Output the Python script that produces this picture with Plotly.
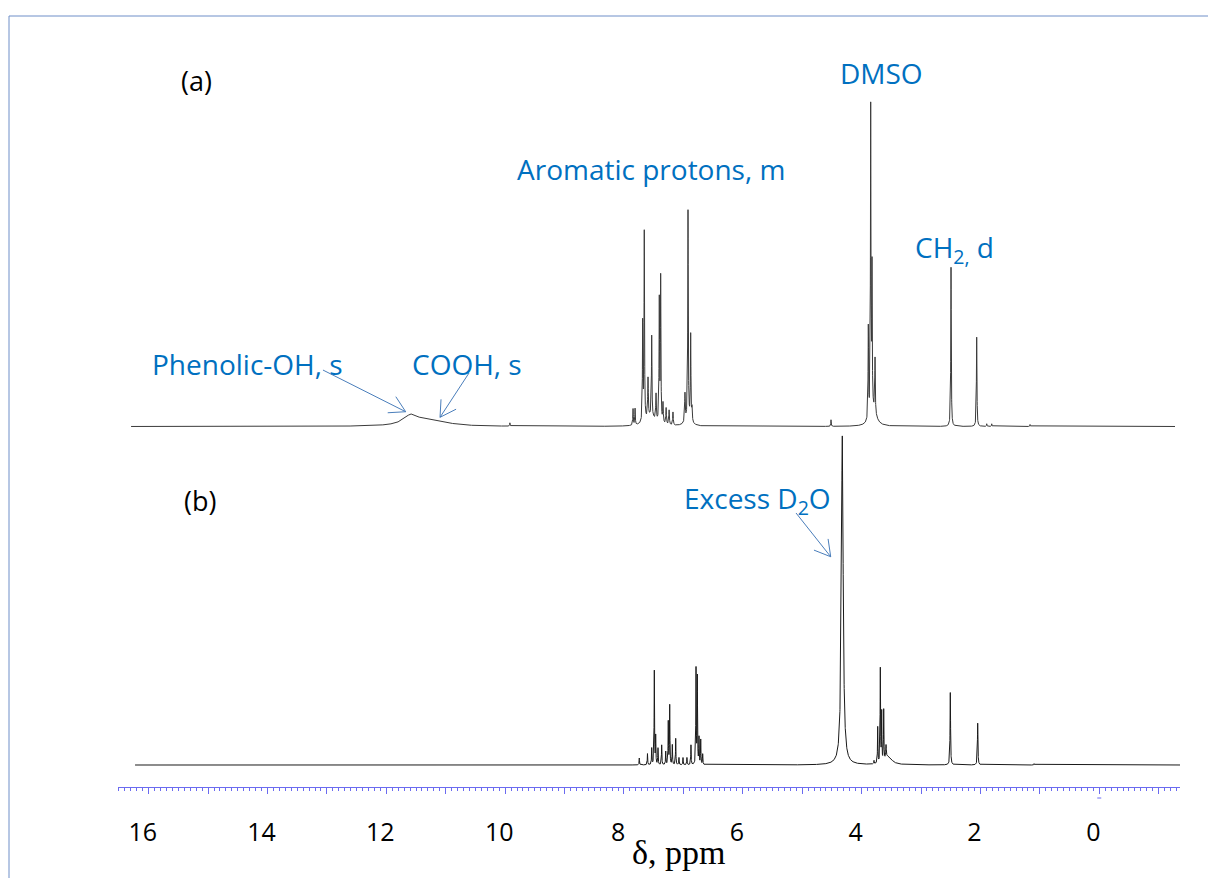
import numpy as np
import plotly.graph_objects as go

# ---------------- data: peak lists (ppm, relative height, half-width in ppm) ----------------
# Spectrum (a): compound in DMSO-d6
a_pos = [11.48, 11.10, 9.82,
         7.747, 7.713, 7.585, 7.558, 7.495, 7.433, 7.36, 7.305, 7.282, 7.243, 7.19, 7.14, 7.075,
         7.45, 6.873, 6.822, 6.777, 6.755, 6.82,
         4.415,
         3.787, 3.747, 3.725, 3.674, 3.70,
         2.395, 1.963, 1.794, 1.71, 1.065]
a_height = [0.032, 0.016, 0.010,
            0.050, 0.050, 0.300, 0.575, 0.120, 0.245, 0.080, 0.370, 0.440, 0.060, 0.050, 0.045, 0.040,
            0.030, 0.085, 0.630, 0.260, 0.040, 0.025,
            0.020,
            0.280, 0.935, 0.430, 0.165, 0.045,
            0.485, 0.272, 0.008, 0.008, 0.006]
a_width = [0.16, 0.30, 0.004,
           0.005, 0.005, 0.005, 0.005, 0.006, 0.005, 0.006, 0.005, 0.005, 0.006, 0.006, 0.006, 0.006,
           0.09, 0.006, 0.005, 0.005, 0.006, 0.05,
           0.004,
           0.005, 0.005, 0.005, 0.005, 0.06,
           0.005, 0.005, 0.004, 0.004, 0.004]
a_window = [16.197, -1.375]

# Spectrum (b): after D2O exchange
b_pos = [7.642, 7.504, 7.433, 7.389, 7.366, 7.327, 7.265, 7.197, 7.154, 7.13, 7.086, 7.029,
         6.974, 6.906, 6.84, 6.772, 6.687, 6.665, 6.637, 6.608, 6.575,
         4.225,
         3.691, 3.629, 3.585, 3.562, 3.528, 3.489, 3.45,
         2.407, 1.946, 0.998]
b_height = [0.021, 0.034, 0.050, 0.285, 0.085, 0.050, 0.060, 0.040, 0.130, 0.180, 0.060, 0.080,
            0.022, 0.022, 0.022, 0.060, 0.290, 0.265, 0.080, 0.075, 0.032,
            1.000,
            0.010, 0.110, 0.285, 0.150, 0.155, 0.040, 0.025,
            0.220, 0.127, 0.004]
b_width = [0.004, 0.004, 0.004, 0.004, 0.004, 0.004, 0.004, 0.004, 0.004, 0.004, 0.004, 0.004,
           0.004, 0.004, 0.004, 0.004, 0.004, 0.004, 0.004, 0.004, 0.004,
           0.0176,
           0.004, 0.004, 0.004, 0.004, 0.004, 0.006, 0.07,
           0.005, 0.005, 0.004]
b_window = [16.13, -1.46]

tick_values = [16, 14, 12, 10, 8, 6, 4, 2, 0]
tick_labels = [str(v) for v in tick_values]

labels_blue = ["DMSO", "Aromatic protons, m", "CH<sub>2,</sub> d", "Phenolic-OH, s", "COOH, s",
               "Excess D<sub>2</sub>O"]

# ---------------- build spectra from the peak lists ----------------
def spectrum(window, pos, height, width):
    x = np.arange(window[1], window[0], 0.001)
    y = np.zeros_like(x)
    for c, h, w in zip(pos, height, width):
        y += h / (1.0 + ((x - c) / w) ** 2)
    return x, y

xa, ya = spectrum(a_window, a_pos, a_height, a_width)
xb, yb = spectrum(b_window, b_pos, b_height, b_width)

# ---------------- layout geometry (pixels) ----------------
W, H = 1208, 878
X_LEFT, X_RIGHT = 118, 1180
PPM_LEFT, PPM_RIGHT = 16.416, -1.459
AXIS_Y = 787.3
A_BASE, A_UNIT = 426.5, 328.2
B_BASE, B_UNIT = 765.0, 329.0

dom_bottom = (H - AXIS_Y) / H
yb_lo = -(AXIS_Y - B_BASE) / B_UNIT
yb_hi = yb_lo + AXIS_Y / B_UNIT
ya_lo = -(AXIS_Y - A_BASE) / A_UNIT
ya_hi = ya_lo + AXIS_Y / A_UNIT

def px(ppm):
    return X_LEFT + (PPM_LEFT - ppm) / (PPM_LEFT - PPM_RIGHT) * (X_RIGHT - X_LEFT)

def fx(p):
    return p / W

def fy(p):
    return 1 - p / H

fig = go.Figure()
fig.add_trace(go.Scatter(x=xa, y=ya, mode="lines", yaxis="y2",
                         line=dict(color="#3a3a3a", width=1), hoverinfo="skip"))
fig.add_trace(go.Scatter(x=xb, y=yb, mode="lines", yaxis="y",
                         line=dict(color="#1a1a1a", width=1), hoverinfo="skip"))
# invisible trace to activate the label axis
fig.add_trace(go.Scatter(x=[tick_values[0]], y=[0], xaxis="x2", mode="markers",
                         marker=dict(opacity=0), hoverinfo="skip"))

AX_BLUE = "#6b6bf0"
fig.update_layout(
    width=W, height=H, margin=dict(l=0, r=0, t=0, b=0),
    paper_bgcolor="white", plot_bgcolor="white", showlegend=False,
    xaxis=dict(domain=[fx(X_LEFT), fx(X_RIGHT)], range=[PPM_LEFT, PPM_RIGHT],
               showgrid=False, zeroline=False, showline=True, linecolor=AX_BLUE, linewidth=1,
               ticks="outside", tick0=-0.1, dtick=1, ticklen=6, tickcolor=AX_BLUE, tickwidth=1,
               showticklabels=False,
               minor=dict(ticks="outside", tick0=-0.1, dtick=0.1, ticklen=2.5, tickcolor=AX_BLUE,
                          tickwidth=1, showgrid=False),
               anchor="y"),
    xaxis2=dict(overlaying="x", range=[PPM_LEFT, PPM_RIGHT], anchor="y", side="bottom",
                showgrid=False, zeroline=False, showline=False, ticks="",
                tickmode="array", tickvals=tick_values, ticktext=tick_labels,
                tickfont=dict(family="Open Sans", size=25, color="black"),
                ticklabelstandoff=28),
    yaxis=dict(domain=[dom_bottom, 1], range=[yb_lo, yb_hi], visible=False, showgrid=False,
               zeroline=False),
    yaxis2=dict(domain=[dom_bottom, 1], range=[ya_lo, ya_hi], overlaying="y", visible=False,
                showgrid=False, zeroline=False),
)

# ---------------- annotations ----------------
BLUE_TXT = "#0070c0"
def text(s, xpix, ypix, size=28, color=BLUE_TXT, family="Open Sans"):
    fig.add_annotation(x=fx(xpix), y=fy(ypix), xref="paper", yref="paper", text=s,
                       showarrow=False, xanchor="center", yanchor="middle",
                       font=dict(family=family, size=size, color=color))

text("(a)", 196, 80, size=27, color="black")
text("(b)", 200, 500, size=27, color="black")
text(labels_blue[0], 881, 73)
text(labels_blue[1], 651, 169)
text(labels_blue[2], 954, 249)
text(labels_blue[3], 247, 364)
text(labels_blue[4], 467, 364)
text(labels_blue[5], 757, 500)
text("δ, ppm", 678, 852, size=34, color="black", family="Liberation Serif")

# arrows with open V heads (tail/tip in data units: ppm, intensity of the relevant spectrum)
ARROW = "#4a7ebb"
def arrow(tail, tip, base, unit, head=18, ang=30):
    x0, y0 = px(tail[0]), base - unit * tail[1]
    x1, y1 = px(tip[0]), base - unit * tip[1]
    th = np.arctan2(y0 - y1, x0 - x1)
    pts = []
    for s in (-1, 1):
        a = th + s * np.radians(ang)
        pts.append((x1 + head * np.cos(a), y1 + head * np.sin(a)))
    path = (f"M{fx(x0)},{fy(y0)} L{fx(x1)},{fy(y1)} "
            f"M{fx(pts[0][0])},{fy(pts[0][1])} L{fx(x1)},{fy(y1)} L{fx(pts[1][0])},{fy(pts[1][1])}")
    fig.add_shape(type="path", path=path, xref="paper", yref="paper",
                  line=dict(color=ARROW, width=1))

arrow((12.966, 0.172), (11.574, 0.045), A_BASE, A_UNIT)
arrow((10.508, 0.163), (10.996, 0.028), A_BASE, A_UNIT)
arrow((5.004, 0.766), (4.42, 0.633), B_BASE, B_UNIT)

# small mark under the axis near 0 ppm
fig.add_shape(type="line", x0=fx(px(-0.1) - 2), x1=fx(px(-0.1) + 2), y0=fy(798), y1=fy(798),
              xref="paper", yref="paper", line=dict(color=AX_BLUE, width=1))

# outer frame
fig.add_shape(type="rect", x0=fx(9), y0=fy(16), x1=1.02, y1=-0.02, xref="paper", yref="paper",
              line=dict(color="#6f8fc8", width=1), fillcolor="rgba(0,0,0,0)", layer="below")

fig.write_html("out.html")
